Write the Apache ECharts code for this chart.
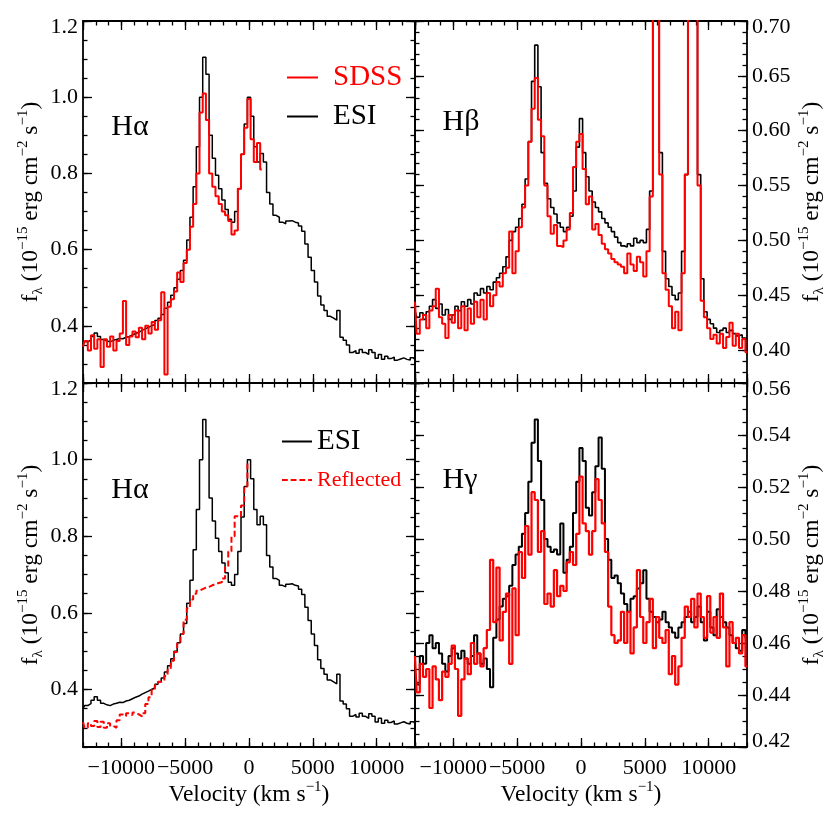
<!DOCTYPE html>
<html><head><meta charset="utf-8">
<script src="https://cdn.jsdelivr.net/npm/echarts@6/dist/echarts.min.js"></script>
<style>html,body{margin:0;padding:0;background:#fff}#c{width:830px;height:830px}</style>
</head><body><div id="c"></div>
<script>
// ---------------- DATA ----------------
const velocity = [-13000,-12750,-12500,-12250,-12000,-11750,-11500,-11250,-11000,-10750,-10500,-10250,-10000,-9750,-9500,-9250,-9000,-8750,-8500,-8250,-8000,-7750,-7500,-7250,-7000,-6750,-6500,-6250,-6000,-5750,-5500,-5250,-5000,-4750,-4500,-4250,-4000,-3750,-3500,-3250,-3000,-2750,-2500,-2250,-2000,-1750,-1500,-1250,-1000,-750,-500,-250,0,250,500,750,1000,1250,1500,1750,2000,2250,2500,2750,3000,3250,3500,3750,4000,4250,4500,4750,5000,5250,5500,5750,6000,6250,6500,6750,7000,7250,7500,7750,8000,8250,8500,8750,9000,9250,9500,9750,10000,10250,10500,10750,11000,11250,11500,11750,12000,12250,12500,12750,13000];

const haESI = [
0.350,0.358,0.363,0.372, 0.381,0.372,0.364,0.360, 0.358,0.362,0.364,0.367, 0.366,0.370,0.372,0.376,
0.380,0.383,0.388,0.392, 0.396,0.400,0.404,0.414, 0.420,0.430,0.446,0.462, 0.480,0.500,0.522,0.545,
0.572,0.625,0.685,0.765, 0.870,1.000,1.105,1.060, 0.900,0.840,0.795,0.760, 0.730,0.705,0.680,0.672,
0.700,0.760,0.850,0.930, 1.000,0.950,0.870,0.830, 0.852,0.830,0.750,0.720, 0.690,0.685,0.672,0.668,
0.675,0.676,0.672,0.670, 0.662,0.648,0.615,0.580, 0.545,0.515,0.478,0.455, 0.440,0.425,0.420,0.415,
0.440,0.370,0.362,0.350, 0.330,0.335,0.328,0.338, 0.330,0.325,0.337,0.330, 0.315,0.325,0.312,0.320,
0.314,0.318,0.310,0.313, 0.316,0.312,0.310,0.316, 0.312];

const haSDSS = [
0.345,0.360,0.335,0.375, 0.340,0.365,0.292,0.365, 0.345,0.372,0.335,0.360, 0.380,0.465,0.350,0.372,
0.385,0.370,0.395,0.365, 0.400,0.380,0.410,0.390, 0.415,0.488,0.272,0.450, 0.470,0.490,0.540,0.515,
0.565,0.600,0.660,0.720, 0.800,0.960,1.010,0.940, 0.800,0.765,0.740,0.720, 0.700,0.690,0.675,0.640,
0.650,0.760,0.850,0.920, 0.995,0.890,0.830,0.880, 0.810,null,null,null, null,null,null,null,
null,null,null,null, null,null,null,null, null,null,null,null, null,null,null,null,
null,null,null,null, null,null,null,null, null,null,null,null, null,null,null,null,
null,null,null,null, null,null,null,null, null];

const haReflected = [
0.315,0.300,0.312,0.305, 0.318,0.302,0.316,0.300, 0.312,0.305,0.300,0.320, 0.335,0.330,0.338,0.333,
0.340,0.335,0.330,0.338, 0.362,0.380,0.400,0.412, 0.420,0.422,0.435,0.452, 0.475,0.498,0.520,0.545,
0.582,0.612,0.635,0.650, 0.658,0.662,0.666,0.668, 0.672,0.675,0.678,0.680, 0.690,0.720,0.760,0.800,
0.852,0.850,0.880,0.930, 0.990,null,null,null, null,null,null,null, null,null,null,null,
null,null,null,null, null,null,null,null, null,null,null,null, null,null,null,null,
null,null,null,null, null,null,null,null, null,null,null,null, null,null,null,null,
null,null,null,null, null,null,null,null, null];

const hbESI = [
0.436,0.430,0.434,0.428, 0.435,0.440,0.446,0.438, 0.442,0.432,0.437,0.428, 0.432,0.440,0.436,0.444,
0.440,0.446,0.442,0.452, 0.450,0.456,0.452,0.458, 0.455,0.462,0.466,0.470, 0.476,0.485,0.500,0.508,
0.512,0.520,0.533,0.556, 0.590,0.645,0.678,0.640, 0.580,0.552,0.538,0.530, 0.524,0.516,0.512,0.508,
0.512,0.522,0.545,0.585, 0.611,0.580,0.558,0.545, 0.535,0.530,0.526,0.520, 0.516,0.512,0.508,0.503,
0.498,0.495,0.494,0.497, 0.495,0.502,0.498,0.500, 0.498,0.510,0.545,0.850, 0.800,0.580,0.490,0.465,
0.458,0.450,0.446,0.452, 0.490,0.560,0.850,1.300, 0.800,0.560,0.465,0.435, 0.428,0.424,0.420,0.416,
0.418,0.420,0.416,0.418, 0.415,0.413,0.414,0.411, 0.410];

const hbSDSS = [
0.444,0.415,0.428,0.432, 0.420,0.436,0.440,0.456, 0.430,0.424,0.411,0.432, 0.425,0.436,0.420,0.440,
0.418,0.438,0.424,0.444, 0.430,0.446,0.428,0.452, 0.440,0.450,0.462,0.458, 0.470,0.475,0.508,0.470,
0.490,0.512,0.530,0.550, 0.590,0.620,0.648,0.610, 0.595,0.550,0.522,0.506, 0.514,0.495,0.494,0.500,
0.510,0.525,0.567,0.590, 0.597,0.565,0.533,0.540, 0.510,0.515,0.505,0.497, 0.492,0.488,0.483,0.480,
0.478,0.476,0.470,0.488, 0.478,0.472,0.485,0.480, 0.467,0.490,0.540,0.840, 0.780,0.560,0.470,0.455,
0.440,0.420,0.435,0.418, 0.470,0.560,0.850,1.300, 0.800,0.550,0.445,0.430, 0.420,0.410,0.414,0.406,
0.415,0.402,0.412,0.425, 0.404,0.415,0.402,0.410, 0.398];

const hgESI = [
0.448,0.444,0.455,0.452, 0.460,0.463,0.458,0.460, 0.456,0.452,0.449,0.455, 0.458,0.456,0.454,0.457,
0.454,0.452,0.455,0.463, 0.456,0.452,0.454,0.450, 0.443,0.462,0.469,0.474, 0.477,0.478,0.482,0.490,
0.494,0.497,0.502,0.510, 0.522,0.537,0.546,0.530, 0.515,0.500,0.497,0.495, 0.496,0.494,0.506,0.487,
0.492,0.497,0.510,0.522, 0.535,0.530,0.512,0.509, 0.518,0.528,0.539,0.527, 0.500,0.492,0.485,0.486,
0.483,0.479,0.475,0.472, 0.477,0.478,0.481,0.483, 0.488,0.477,0.472,0.470, 0.468,0.469,0.472,0.468,
0.466,0.464,0.462,0.466, 0.468,0.470,0.472,0.468, 0.470,0.474,0.468,0.461, 0.472,0.466,0.463,0.473,
0.470,0.468,0.466,0.463, 0.460,0.458,0.457,0.465, 0.462];

const hgSDSS = [
0.455,0.441,0.452,0.447, 0.450,0.435,0.451,0.446, 0.438,0.449,0.447,0.452, 0.459,0.450,0.432,0.446,
0.454,0.448,0.460,0.452, 0.456,0.451,0.458,0.465, 0.492,0.468,0.489,0.461, 0.472,0.479,0.452,0.481,
0.463,0.495,0.485,0.505, 0.494,0.518,0.515,0.495, 0.503,0.475,0.479,0.474, 0.488,0.478,0.482,0.480,
0.491,0.495,0.490,0.502, 0.524,0.506,0.503,0.494, 0.503,0.523,0.515,0.506, 0.495,0.474,0.463,0.460,
0.461,0.472,0.460,0.472, 0.456,0.466,0.488,0.470, 0.460,0.468,0.477,0.458, 0.470,0.462,0.460,0.465,
0.448,0.455,0.444,0.451, 0.462,0.474,0.470,0.477, 0.466,0.479,0.470,0.462, 0.478,0.464,0.470,0.462,
0.479,0.466,0.451,0.468, 0.460,0.462,0.456,0.463, 0.451];

const panelLabels = ['Hα', 'Hβ', 'Hα', 'Hγ'];
const xRange = [-13000, 13000];
const yRanges = [[0.25, 1.2], [0.37, 0.70], [0.25, 1.2], [0.42, 0.56]];

// ---------------- LAYOUT ----------------
const FONT = '"Liberation Serif", "Times New Roman", serif';
const grids = [
  {left: 83, top: 21, width: 332, height: 362},
  {left: 415, top: 21, width: 332, height: 362},
  {left: 83, top: 383, width: 332, height: 364},
  {left: 415, top: 383, width: 332, height: 364}
];
const panelCfg = [
  {side: 'left',  xLabels: false, dec: 1, interval: null, minor: 0.05,  showMin: false},
  {side: 'right', xLabels: false, dec: 2, interval: null, minor: 0.01,  showMin: false},
  {side: 'left',  xLabels: true,  dec: 1, interval: null, minor: 0.05,  showMin: false},
  {side: 'right', xLabels: true,  dec: 2, interval: 0.02, minor: 0.005, showMin: true}
];

const lineSt = {color: '#000', width: 1.8};
const tickSt = {color: '#000', width: 1.3};
const MAJ = 9, MIN = 4.5;

const yTitle = '{t|f}{s|λ}{t| (10}{p|−15}{t| erg cm}{p|−2}{t| s}{p|−1}{t|)}';
const xTitle = '{t|Velocity (km s}{p|−1}{t|)}';
const titleRich = {
  t: {fontSize: 23.5, fontFamily: FONT, color: '#000', lineHeight: 30},
  p: {fontSize: 15, fontFamily: FONT, color: '#000', lineHeight: 14, verticalAlign: 'top'},
  s: {fontSize: 15, fontFamily: FONT, color: '#000', lineHeight: 14, verticalAlign: 'bottom'}
};

const xAxes = [], yAxes = [];
grids.forEach((g, gi) => {
  const cfg = panelCfg[gi];
  ['bottom', 'top'].forEach(pos => {
    const labeled = cfg.xLabels && pos === 'bottom';
    xAxes.push({
      type: 'value', gridIndex: gi, position: pos, min: xRange[0], max: xRange[1], splitNumber: 5,
      axisLine: {show: true, onZero: false, lineStyle: lineSt},
      axisTick: {show: true, inside: true, length: MAJ, lineStyle: tickSt},
      axisLabel: {show: labeled, fontSize: 22, fontFamily: FONT, color: '#000', margin: 10,
        showMinLabel: false, showMaxLabel: false,
        formatter: v => v < 0 ? '−' + Math.abs(v) : String(v)},
      splitLine: {show: false},
      name: labeled ? xTitle : '', nameLocation: 'middle', nameGap: 31,
      nameTextStyle: {rich: titleRich}
    });
  });
  ['bottom', 'top'].forEach(pos => {
    xAxes.push({
      type: 'value', gridIndex: gi, position: pos, min: xRange[0], max: xRange[1], interval: 1000,
      axisLine: {show: false, onZero: false},
      axisTick: {show: true, inside: true, length: MIN, lineStyle: tickSt},
      axisLabel: {show: false}, splitLine: {show: false}
    });
  });
  const yr = yRanges[gi];
  ['left', 'right'].forEach(pos => {
    const labeled = cfg.side === pos;
    const ax = {
      type: 'value', gridIndex: gi, position: pos, min: yr[0], max: yr[1], splitNumber: 5,
      axisLine: {show: true, onZero: false, lineStyle: lineSt},
      axisTick: {show: true, inside: true, length: MAJ, lineStyle: tickSt},
      axisLabel: {show: labeled, fontSize: 22, fontFamily: FONT, color: '#000', margin: 5,
        showMinLabel: cfg.showMin, showMaxLabel: true,
        formatter: v => {
          const s = v.toFixed(cfg.dec);
          if (Math.abs(v - yr[1]) < 1e-9) return '{lo|' + s + '}';
          if (Math.abs(v - yr[0]) < 1e-9) return '{hi|' + s + '}';
          return s;
        },
        rich: {
          lo: {fontSize: 22, fontFamily: FONT, color: '#000', padding: [12, 0, 0, 0]},
          hi: {fontSize: 22, fontFamily: FONT, color: '#000', padding: [0, 0, 12, 0]}
        }},
      splitLine: {show: false},
      name: labeled ? yTitle : '', nameLocation: 'middle', nameRotate: 90,
      nameGap: pos === 'left' ? 37 : 50,
      nameTextStyle: {rich: titleRich}
    };
    if (cfg.interval) ax.interval = cfg.interval;
    yAxes.push(ax);
  });
  ['left', 'right'].forEach(pos => {
    yAxes.push({
      type: 'value', gridIndex: gi, position: pos, min: yr[0], max: yr[1], interval: cfg.minor,
      axisLine: {show: false, onZero: false},
      axisTick: {show: true, inside: true, length: MIN, lineStyle: tickSt},
      axisLabel: {show: false}, splitLine: {show: false}
    });
  });
});

function mk(name, gi, vals, color, width, dash, z) {
  const data = [];
  velocity.forEach((v, i) => { if (vals[i] !== null) data.push([v, vals[i]]); });
  return {
    type: 'line', name: name, xAxisIndex: gi * 4, yAxisIndex: gi * 4, data: data,
    step: 'middle', symbol: 'none', showSymbol: false, clip: true, silent: true, z: z,
    lineStyle: {color: color, width: width, type: dash ? [6, 3] : 'solid'},
    itemStyle: {color: color}
  };
}

const series = [
  mk('ESI', 0, haESI, '#000', 1.5, false, 2),
  mk('SDSS', 0, haSDSS, '#ff0000', 2, false, 3),
  mk('ESI', 1, hbESI, '#000', 1.6, false, 2),
  mk('SDSS', 1, hbSDSS, '#ff0000', 2, false, 3),
  mk('ESI', 2, haESI, '#000', 1.5, false, 2),
  mk('Reflected', 2, haReflected, '#ff0000', 2, true, 3),
  mk('ESI', 3, hgESI, '#000', 2, false, 2),
  mk('SDSS', 3, hgSDSS, '#ff0000', 2.2, false, 3)
];

const DASH_ICON = 'path://M0,0h6v2h-6z M9,0h6v2h-6z M18,0h6v2h-6z M27,0h4v2h-4z';
const legendBase = {orient: 'vertical', padding: 0, itemWidth: 31, itemHeight: 2, selectedMode: false};
const legends = [
  Object.assign({}, legendBase, {left: 287, top: 63, icon: 'rect', data: [{name: 'SDSS'}],
    itemStyle: {color: '#ff0000'},
    textStyle: {fontSize: 29, fontFamily: FONT, color: '#ff0000', padding: [0, 0, 0, 10]}}),
  Object.assign({}, legendBase, {left: 287, top: 102, icon: 'rect', data: [{name: 'ESI'}],
    itemStyle: {color: '#000'},
    textStyle: {fontSize: 29, fontFamily: FONT, color: '#000', padding: [0, 0, 0, 10]}}),
  Object.assign({}, legendBase, {left: 282, top: 427, itemWidth: 30, icon: 'rect', data: [{name: 'ESI'}],
    itemStyle: {color: '#000'},
    textStyle: {fontSize: 29, fontFamily: FONT, color: '#000'}}),
  Object.assign({}, legendBase, {left: 282, top: 469, itemWidth: 30, icon: DASH_ICON, data: [{name: 'Reflected'}],
    itemStyle: {color: '#ff0000'},
    textStyle: {fontSize: 22, fontFamily: FONT, color: '#ff0000'}})
];

const labelPos = [[130, 127], [461, 122], [130, 490], [460, 480]];
const graphic = panelLabels.map((t, i) => ({
  type: 'text', x: labelPos[i][0], y: labelPos[i][1], silent: true,
  style: {text: t, fontSize: 30, fontFamily: FONT, fill: '#000',
    textAlign: 'center', textVerticalAlign: 'middle', align: 'center', verticalAlign: 'middle'}
}));

const chart = echarts.init(document.getElementById('c'));
chart.setOption({
  animation: false,
  backgroundColor: '#fff',
  grid: grids,
  xAxis: xAxes,
  yAxis: yAxes,
  legend: legends,
  graphic: graphic,
  series: series
});
</script></body></html>
